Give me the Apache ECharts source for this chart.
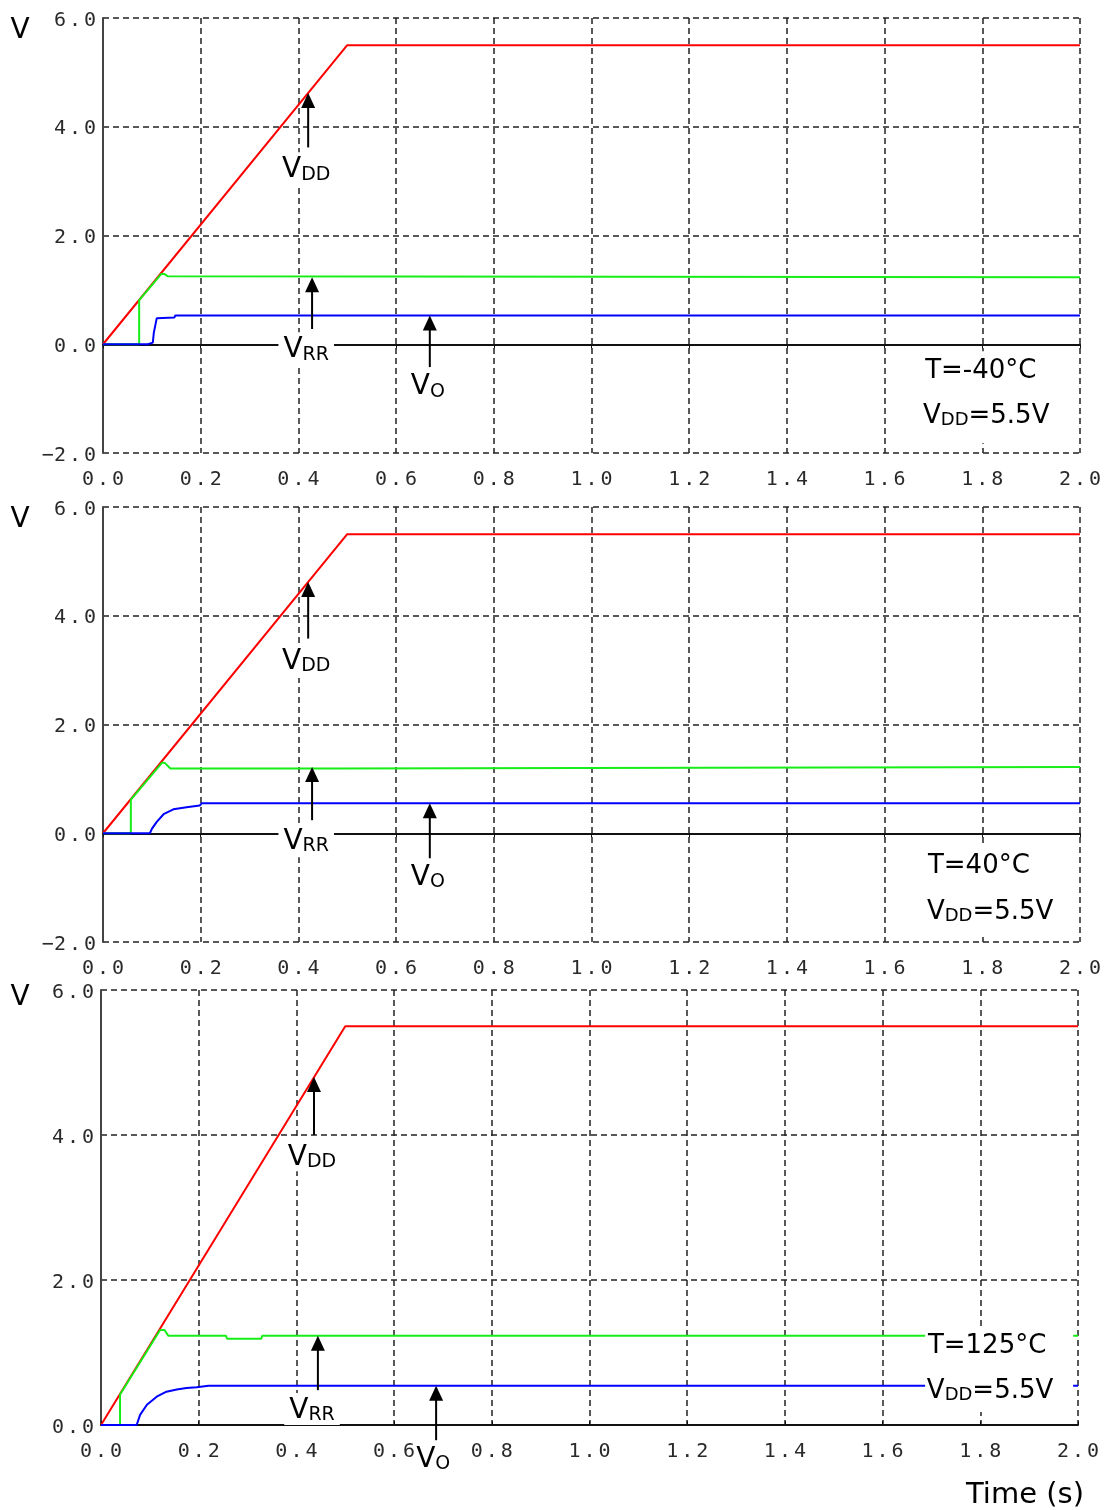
<!DOCTYPE html>
<html>
<head>
<meta charset="utf-8">
<script src="https://cdn.jsdelivr.net/npm/echarts@6/dist/echarts.min.js"></script>
<style>
  html, body { margin: 0; padding: 0; background: #fff; }
  #chart { width: 1109px; height: 1510px; }
</style>
</head>
<body>
<div id="chart"></div>
<script>
// Tick labels
const timeTickLabels = ['0.0', '0.2', '0.4', '0.6', '0.8', '1.0', '1.2', '1.4', '1.6', '1.8', '2.0'];
const voltTickLabels = ['−2.0', '0.0', '2.0', '4.0', '6.0'];

// Panel captions
const temperatures = ['T=-40°C', 'T=40°C', 'T=125°C'];
const supplyCaption = ['V', 'DD', '=5.5V'];

// T = -40 °C  ([time s, volts])
const vddCold = [[0, 0], [0.5, 5.5], [2.0, 5.5]];
const vrrCold = [[0, 0], [0.074, 0], [0.074, 0.81], [0.119, 1.29], [0.126, 1.29], [0.133, 1.25], [0.137, 1.23], [2.0, 1.23]];
const voCold = [[0, 0], [0.092, 0], [0.095, 0.03], [0.102, 0.03], [0.104, 0.21], [0.108, 0.22], [0.11, 0.48], [0.146, 0.49], [0.148, 0.53], [2.0, 0.53]];

// T = 40 °C
const vddWarm = [[0, 0], [0.5, 5.5], [2.0, 5.5]];
const vrrWarm = [[0, 0], [0.057, 0], [0.057, 0.62], [0.121, 1.30], [0.127, 1.29], [0.138, 1.19], [0.475, 1.19], [0.477, 1.22], [2.0, 1.22]];
const voWarm = [[0, 0], [0.096, 0], [0.1, 0.08], [0.11, 0.21], [0.124, 0.35], [0.144, 0.44], [0.171, 0.48], [0.198, 0.51], [0.202, 0.55], [2.0, 0.55]];

// T = 125 °C
const vddHot = [[0, 0], [0.5, 5.5], [2.0, 5.5]];
const vrrHot = [[0, 0], [0.039, 0], [0.039, 0.42], [0.121, 1.31], [0.13, 1.31], [0.138, 1.23], [0.256, 1.23], [0.258, 1.19], [0.328, 1.19], [0.33, 1.23], [2.0, 1.23]];
const voHot = [[0, 0], [0.073, 0], [0.08, 0.14], [0.094, 0.28], [0.114, 0.39], [0.134, 0.46], [0.155, 0.49], [0.175, 0.51], [0.196, 0.52], [0.22, 0.54], [2.0, 0.54]];

// Callout arrows (time, tail volts, tip volts) and their labels (time, volts)
const arrowsCold = [[0.42, 3.62, 4.62], [0.428, 0.28, 1.23], [0.669, -0.42, 0.53]];
const arrowsWarm = [[0.42, 3.58, 4.62], [0.428, 0.24, 1.22], [0.669, -0.46, 0.55]];
const arrowsHot = [[0.436, 4.0, 4.8], [0.444, 0.48, 1.23], [0.686, -0.21, 0.54]];
const calloutNames = ['DD', 'RR', 'O'];
const calloutsCold = [[0.416, 3.22], [0.416, -0.09], [0.665, -0.79]];
const calloutsWarm = [[0.416, 3.17], [0.416, -0.13], [0.665, -0.81]];
const calloutsHot = [[0.432, 3.72], [0.432, 0.22], [0.68, -0.48]];
// Condition caption box (time from, time to, volts top, volts bottom) and text rows
const captionBoxes = [[1.662, 1.959, -0.13, -1.82], [1.662, 1.975, -0.22, -1.87], [1.687, 1.99, 1.35, 0.18]];
const captionRows = [
  [[1.797, -0.44], [1.808, -1.27]],
  [[1.793, -0.55], [1.816, -1.40]],
  [[1.814, 1.13], [1.820, 0.51]]
];

const panels = [
  { vdd: vddCold, vrr: vrrCold, vo: voCold, ymin: -2, arrows: arrowsCold, callouts: calloutsCold },
  { vdd: vddWarm, vrr: vrrWarm, vo: voWarm, ymin: -2, arrows: arrowsWarm, callouts: calloutsWarm },
  { vdd: vddHot, vrr: vrrHot, vo: voHot, ymin: 0, arrows: arrowsHot, callouts: calloutsHot }
];

const gridBoxes = [
  { left: 103, top: 18, width: 977, height: 435 },
  { left: 103, top: 507, width: 977, height: 435 },
  { left: 101, top: 990, width: 977, height: 435 }
];

const MONO = "'DejaVu Sans Mono', 'Liberation Mono', monospace";
const SANS = "'DejaVu Sans', Verdana, sans-serif";
// text is centred on its em box; nudge down so the capitals sit centred
const CAP_NUDGE = 3;

// "6.0" drawn with the wide, evenly spaced look of a scope readout
function spaced(label) {
  const neg = label.charAt(0) === '−';
  const parts = (neg ? label.slice(1) : label).split('.');
  return (neg ? '{d|−}' : '') + '{d|' + parts[0] + '}{p|.}{d|' + parts[1] + '}';
}
const tickRich = {
  d: { fontFamily: MONO, fontSize: 20, color: '#2a2a2a' },
  p: { fontFamily: MONO, fontSize: 20, color: '#2a2a2a', padding: [0, 3] }
};

const dashed = { color: '#222', width: 1.5, type: [6, 4] };

const xAxes = [];
const yAxes = [];
const series = [];

panels.forEach((p, i) => {
  const isLast = i === panels.length - 1;
  xAxes.push({
    type: 'value', gridIndex: i, min: 0, max: 2, interval: 0.2, position: 'bottom',
    axisLine: isLast ? { show: true, onZero: true, lineStyle: { color: '#111', width: 2 } } : { show: false, onZero: false },
    axisTick: isLast ? { show: true, inside: true, length: 4, lineStyle: { color: '#111' } } : { show: false },
    axisLabel: {
      margin: 17,
      formatter: v => spaced(timeTickLabels[Math.round(v / 0.2)]),
      rich: tickRich
    },
    splitLine: { show: true, lineStyle: dashed }
  });
  yAxes.push({
    type: 'value', gridIndex: i, min: p.ymin, max: 6, interval: 2,
    axisLine: { show: true, onZero: false, lineStyle: { color: '#444', width: 2 } },
    axisTick: { show: false },
    axisLabel: {
      margin: 7,
      padding: [5, 0, 0, 0],
      formatter: v => spaced(voltTickLabels[Math.round((v + 2) / 2)]),
      rich: tickRich
    },
    splitLine: { show: true, lineStyle: dashed }
  });
  const common = { type: 'line', xAxisIndex: i, yAxisIndex: i, symbol: 'none', silent: true, animation: false };
  series.push(Object.assign({}, common, { name: 'VDD', data: p.vdd, lineStyle: { color: '#ff0000', width: 2 }, z: 3 }));
  series.push(Object.assign({}, common, { name: 'VRR', data: p.vrr, lineStyle: { color: '#17ee17', width: 2 }, z: 4 }));
  series.push(Object.assign({}, common, { name: 'VO', data: p.vo, lineStyle: { color: '#0000ff', width: 2 }, z: 5 }));
});

// Solid zero-volt baseline for the panels whose range dips below zero
panels.forEach((p, i) => {
  if (p.ymin >= 0) return;
  xAxes.push({
    type: 'value', gridIndex: i, min: 0, max: 2, interval: 0.2, position: 'bottom',
    axisLine: { show: true, onZero: true, lineStyle: { color: '#111', width: 2 } },
    axisTick: { show: true, inside: false, length: 4, lineStyle: { color: '#111' } },
    axisLabel: { show: false },
    splitLine: { show: false }
  });
});

const chart = echarts.init(document.getElementById('chart'), null, { renderer: 'canvas' });
chart.setOption({
  backgroundColor: '#fff',
  animation: false,
  grid: gridBoxes,
  xAxis: xAxes,
  yAxis: yAxes,
  series: series
});

// Callouts, captions and axis titles placed through each panel's scales
const px = (i, x, y) => chart.convertToPixel({ xAxisIndex: i, yAxisIndex: i }, [x, y]);
const graphics = [];
const bigRich = {
  m: { fontFamily: SANS, fontSize: 28, fill: '#000', lineHeight: 28, verticalAlign: 'top' },
  s: { fontFamily: SANS, fontSize: 19, fill: '#000', lineHeight: 19, verticalAlign: 'bottom', padding: [14, 0, 0, 0] }
};
const capRich = {
  m: { fontFamily: SANS, fontSize: 26, fill: '#000', lineHeight: 26, verticalAlign: 'top' },
  s: { fontFamily: SANS, fontSize: 18, fill: '#000', lineHeight: 18, verticalAlign: 'bottom', padding: [13, 0, 0, 0] }
};

panels.forEach((p, i) => {
  const isLast = i === panels.length - 1;
  p.arrows.forEach(a => {
    const tail = px(i, a[0], a[1]);
    const tip = px(i, a[0], a[2]);
    graphics.push({
      type: 'line', z: 110,
      shape: { x1: tip[0], y1: tip[1] + 12, x2: tip[0], y2: tail[1] },
      style: { stroke: '#000', lineWidth: 2 }
    });
    graphics.push({
      type: 'polygon', z: 110,
      shape: { points: [[tip[0], tip[1]], [tip[0] - 7, tip[1] + 15], [tip[0] + 7, tip[1] + 15]] },
      style: { fill: '#000' }
    });
  });
  p.callouts.forEach((c, k) => {
    const pos = px(i, c[0], c[1]);
    const masked = calloutNames[k] !== 'O';
    graphics.push({
      type: 'text', z: 105, x: pos[0], y: pos[1],
      style: {
        text: '{m|V}{s|' + calloutNames[k] + '}',
        rich: bigRich, align: 'center', verticalAlign: 'middle',
        backgroundColor: masked ? '#fff' : 'transparent',
        padding: masked ? [4, 5, isLast ? 0 : 2, 5] : 0
      }
    });
  });
  const b = captionBoxes[i];
  const b0 = px(i, b[0], b[2]);
  const b1 = px(i, b[1], b[3]);
  graphics.push({
    type: 'rect', z: 100,
    shape: { x: b0[0], y: b0[1], width: b1[0] - b0[0], height: b1[1] - b0[1] },
    style: { fill: '#fff' }
  });
  const r0 = px(i, captionRows[i][0][0], captionRows[i][0][1]);
  const r1 = px(i, captionRows[i][1][0], captionRows[i][1][1]);
  graphics.push({
    type: 'text', z: 106, x: r0[0], y: r0[1] + CAP_NUDGE,
    style: { text: temperatures[i], font: '26px ' + SANS, fill: '#000', align: 'center', verticalAlign: 'middle' }
  });
  graphics.push({
    type: 'text', z: 106, x: r1[0], y: r1[1] + CAP_NUDGE,
    style: {
      text: '{m|' + supplyCaption[0] + '}{s|' + supplyCaption[1] + '}{m|' + supplyCaption[2] + '}',
      rich: capRich, align: 'center', verticalAlign: 'middle'
    }
  });
  // "V" axis title beside the top of each panel
  const top = px(i, 0, 6);
  graphics.push({
    type: 'text', z: 106, x: 20, y: top[1] + (isLast ? 4 : 9) + CAP_NUDGE + 1,
    style: { text: 'V', font: '28px ' + SANS, fill: '#000', align: 'center', verticalAlign: 'middle' }
  });
});

const end = px(2, 2, 0);
graphics.push({
  type: 'text', z: 106, x: end[0] - 53, y: end[1] + 67 + CAP_NUDGE,
  style: { text: 'Time (s)', font: '29px ' + SANS, fill: '#000', align: 'center', verticalAlign: 'middle' }
});

chart.setOption({ graphic: graphics });
</script>
</body>
</html>
